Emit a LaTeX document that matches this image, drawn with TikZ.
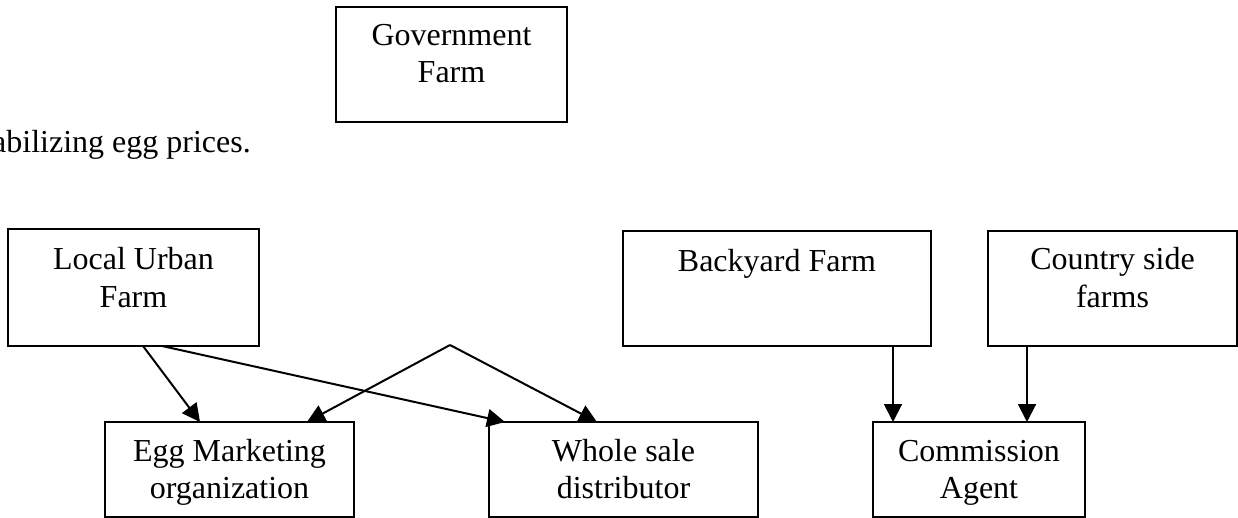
\documentclass[tikz,border=0pt]{standalone}
\usepackage{fontspec}
\setmainfont{Liberation Serif}
\usetikzlibrary{arrows.meta,calc}
\begin{document}
\begin{tikzpicture}[x=1pt,y=-1pt,
  box/.style={draw,line width=1.4pt,inner sep=0pt,outer sep=0pt},
  lbl/.style={font=\fontsize{32}{37}\selectfont,align=center,inner sep=0pt,anchor=base},
  arr/.style={line width=2pt,-{Triangle[length=18pt,width=18pt]}}]
\useasboundingbox (0,0) rectangle (1238,518);
\clip (0,0) rectangle (1238,518);
% boxes
\node[box,minimum width=231pt,minimum height=115pt] (gov) at (451.5,64.5) {};
\node[box,minimum width=251pt,minimum height=117pt] (lu) at (133.5,287.5) {};
\node[box,minimum width=308pt,minimum height=115pt] (by) at (777,288.5) {};
\node[box,minimum width=249pt,minimum height=115pt] (cs) at (1112.5,288.5) {};
\node[box,minimum width=249pt,minimum height=95pt] (egg) at (229.5,469.5) {};
\node[box,minimum width=269pt,minimum height=95pt] (ws) at (623.5,469.5) {};
\node[box,minimum width=212pt,minimum height=95pt] (ca) at (979,469.5) {};
% labels (base anchor = baseline of last line)
\node[lbl] (govt) at ($(gov.north)+(0,76)$) {Government\\Farm};
\node[lbl] (lut) at ($(lu.north)+(0,78)$) {Local Urban\\Farm};
\node[lbl] (byt) at ($(by.north)+(0,41)$) {Backyard Farm};
\node[lbl] (cst) at ($(cs.north)+(0,76)$) {Country side\\farms};
\node[lbl] (eggt) at ($(egg.north)+(0,76)$) {Egg Marketing\\organization};
\node[lbl] (wst) at ($(ws.north)+(0,76)$) {Whole sale\\distributor};
\node[lbl] (cat) at ($(ca.north)+(0,76)$) {Commission\\Agent};
\node[lbl,anchor=base west] (stab) at (-8,153) {abilizing egg prices.};
% connectors
\coordinate (apex) at (450,345);
\draw[arr] ([xshift=135pt]lu.south west) -- ([xshift=95pt]egg.north west);
\draw[arr] ([xshift=154pt]lu.south west) -- ([xshift=16pt]ws.north west);
\draw[arr] (apex) -- ([xshift=202pt]egg.north west);
\draw[arr] (apex) -- ([xshift=108pt]ws.north west);
\draw[arr] ([xshift=270pt]by.south west) -- ([xshift=20pt]ca.north west);
\draw[arr] ([xshift=39pt]cs.south west) -- ([xshift=154pt]ca.north west);
\end{tikzpicture}
\end{document}
